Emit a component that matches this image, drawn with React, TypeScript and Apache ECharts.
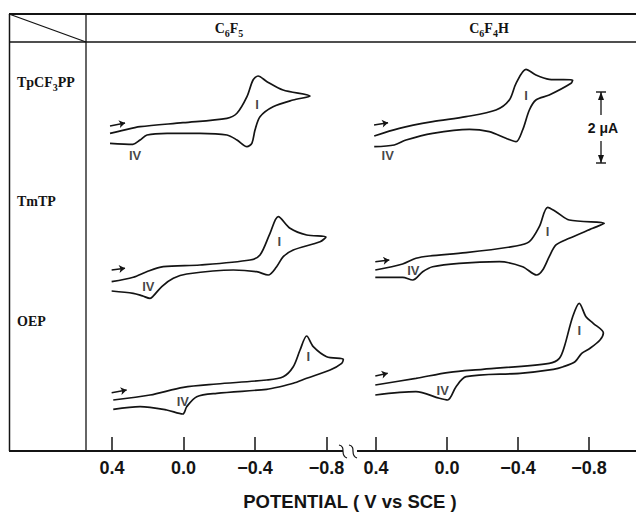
import React, { useEffect, useRef } from "react";
import * as echarts from "echarts";

// Potential in V vs SCE (x), current in µA measured from each row's baseline (y)
const potentialTicks = [0.4, 0.0, -0.4, -0.8];
const substituents = ["C6F5", "C6F4H"];
const porphyrins = ["TpCF3PP", "TmTP", "OEP"];
const axisTitle = "POTENTIAL ( V vs SCE )";
const scaleLabel = "2 μA";

// TpCF3PP / C6F5
const tpcf3pp_C6F5_forward = [[0.411, 1.268], [0.346, 1.342], [0.243, 1.454], [0.003, 1.567], [-0.243, 1.691], [-0.299, 1.832], [-0.355, 2.299], [-0.389, 2.770], [-0.417, 2.883], [-0.467, 2.722], [-0.557, 2.488], [-0.708, 2.319]];
const tpcf3pp_C6F5_reverse = [[-0.613, 2.207], [-0.501, 2.018], [-0.428, 1.736], [-0.400, 1.361], [-0.383, 0.995], [-0.355, 0.891], [-0.299, 1.080], [-0.243, 1.221], [-0.092, 1.268], [0.092, 1.268], [0.204, 1.221], [0.243, 1.080], [0.283, 0.959], [0.411, 0.987]];
// TpCF3PP / C6F4H
const tpcf3pp_C6F4H_forward = [[0.410, 1.192], [0.269, 1.409], [0.081, 1.595], [-0.107, 1.736], [-0.276, 1.925], [-0.351, 2.207], [-0.389, 2.677], [-0.445, 3.071], [-0.501, 2.911], [-0.576, 2.790], [-0.708, 2.770]];
const tpcf3pp_C6F4H_reverse = [[-0.699, 2.677], [-0.576, 2.347], [-0.501, 2.207], [-0.464, 1.925], [-0.426, 1.361], [-0.389, 1.032], [-0.332, 1.128], [-0.238, 1.314], [-0.126, 1.381], [0.081, 1.268], [0.231, 1.080], [0.297, 0.939], [0.410, 0.891]];
// TmTP / C6F5
const tmtp_C6F5_forward = [[0.402, 0.929], [0.281, 1.053], [0.206, 1.210], [0.113, 1.351], [-0.092, 1.399], [-0.372, 1.540], [-0.428, 1.681], [-0.484, 2.292], [-0.530, 2.760], [-0.596, 2.433], [-0.689, 2.244], [-0.797, 2.188]];
const tmtp_C6F5_reverse = [[-0.764, 2.055], [-0.614, 1.822], [-0.558, 1.633], [-0.521, 1.351], [-0.474, 1.117], [-0.409, 1.210], [-0.279, 1.258], [-0.018, 1.146], [0.057, 1.025], [0.120, 0.800], [0.170, 0.520], [0.187, 0.461], [0.230, 0.530], [0.281, 0.602], [0.402, 0.667]];
// TmTP / C6F4H
const tmtp_C6F4H_forward = [[0.404, 1.258], [0.250, 1.427], [0.175, 1.588], [0.100, 1.653], [-0.107, 1.746], [-0.389, 1.934], [-0.464, 2.055], [-0.520, 2.478], [-0.567, 3.025], [-0.614, 2.901], [-0.689, 2.667], [-0.886, 2.574]];
const tmtp_C6F4H_reverse = [[-0.821, 2.433], [-0.689, 2.151], [-0.614, 1.963], [-0.576, 1.633], [-0.539, 1.258], [-0.505, 1.117], [-0.426, 1.351], [-0.295, 1.492], [-0.069, 1.447], [0.081, 1.351], [0.137, 1.210], [0.193, 0.977], [0.250, 1.053], [0.404, 1.053]];
// OEP / C6F5
const oep_C6F5_forward = [[0.393, 1.437], [0.187, 1.577], [0.001, 1.794], [-0.186, 1.887], [-0.465, 2.000], [-0.558, 2.093], [-0.614, 2.375], [-0.652, 2.845], [-0.689, 3.239], [-0.726, 2.938], [-0.801, 2.656], [-0.894, 2.583]];
const oep_C6F5_reverse = [[-0.885, 2.470], [-0.820, 2.282], [-0.689, 2.048], [-0.614, 1.907], [-0.540, 1.811], [-0.465, 1.738], [-0.186, 1.625], [-0.074, 1.530], [-0.018, 1.248], [0.004, 1.042], [0.094, 1.155], [0.243, 1.248], [0.393, 1.175]];
// OEP / C6F4H
const oep_C6F4H_forward = [[0.404, 1.859], [0.175, 2.048], [-0.013, 2.217], [-0.201, 2.301], [-0.576, 2.470], [-0.633, 2.611], [-0.661, 2.938], [-0.708, 3.783], [-0.745, 4.161], [-0.783, 3.783], [-0.824, 3.597], [-0.881, 3.324]];
const oep_C6F4H_reverse = [[-0.862, 3.127], [-0.806, 2.893], [-0.759, 2.752], [-0.721, 2.515], [-0.655, 2.375], [-0.599, 2.301], [-0.411, 2.189], [-0.107, 2.093], [-0.051, 1.811], [-0.004, 1.437], [0.043, 1.485], [0.175, 1.670], [0.404, 1.577]];

// scan-direction arrows (start, end), per panel (row-major)
const scanArrows = [
  [[0.411, 1.474], [0.327, 1.559]],
  [[0.411, 1.502], [0.332, 1.567]],
  [[0.402, 1.258], [0.327, 1.306]],
  [[0.404, 1.492], [0.325, 1.540]],
  [[0.402, 1.642], [0.318, 1.718]],
  [[0.404, 2.113], [0.334, 2.189]],
];
// positions of the wave labels "I" and "IV", per panel
const waveI = [[-0.411, 2.066], [-0.445, 2.347], [-0.536, 2.055], [-0.567, 2.337], [-0.698, 2.656], [-0.745, 3.408]];
const waveIV = [[0.271, 0.657], [0.334, 0.657], [0.197, 0.788], [0.190, 1.258], [0.004, 1.389], [0.024, 1.718]];

const curves = [
  tpcf3pp_C6F5_forward.concat(tpcf3pp_C6F5_reverse),
  tpcf3pp_C6F4H_forward.concat(tpcf3pp_C6F4H_reverse),
  tmtp_C6F5_forward.concat(tmtp_C6F5_reverse),
  tmtp_C6F4H_forward.concat(tmtp_C6F4H_reverse),
  oep_C6F5_forward.concat(oep_C6F5_reverse),
  oep_C6F4H_forward.concat(oep_C6F4H_reverse),
];

const INK = "#141414";
const ROW_BOTTOMS = [178.33, 314.67, 451];
const PX_PER_UA = 35.5;
const GRID_H = 160;
const Y_MAX = GRID_H / PX_PER_UA;
const COLS = [
  { left: 94.125, width: 250.25, min: -0.9, max: 0.5 },
  { left: 358.25, width: 266.25, min: -1.0, max: 0.5 },
];

const subRich = (s: string) => s.replace(/(\d)/g, "{s|$1}");
const fmt = (v: number) => v.toFixed(1).replace("-", "\u2212");

function buildOption() {
  const grid: any[] = [];
  const xAxis: any[] = [];
  const yAxis: any[] = [];
  const series: any[] = [];
  curves.forEach((data, k) => {
    const r = Math.floor(k / 2);
    const c = k % 2;
    const col = COLS[c];
    grid.push({
      left: col.left,
      width: col.width,
      top: ROW_BOTTOMS[r] - GRID_H,
      height: GRID_H,
      containLabel: false,
      outerBoundsMode: "none",
    });
    xAxis.push({
      gridIndex: k,
      type: "value",
      inverse: true,
      min: col.min,
      max: col.max,
      show: r === 2,
      axisLine: { show: false },
      splitLine: { show: false },
      axisTick: {
        show: true,
        inside: true,
        length: 14,
        customValues: potentialTicks,
        lineStyle: { color: INK, width: 1.5 },
      },
      axisLabel: {
        customValues: potentialTicks,
        formatter: (v: number) => fmt(v),
        margin: 8,
        fontSize: 18,
        fontWeight: "bold",
        color: INK,
        fontFamily: "Liberation Sans",
      },
    });
    yAxis.push({ gridIndex: k, type: "value", min: 0, max: Y_MAX, show: false });
    series.push({
      type: "line",
      xAxisIndex: k,
      yAxisIndex: k,
      data,
      symbol: "none",
      showSymbol: false,
      smooth: 0.3,
      clip: false,
      silent: true,
      lineStyle: { color: INK, width: 1.7 },
    });
    series.push({
      type: "lines",
      coordinateSystem: "cartesian2d",
      xAxisIndex: k,
      yAxisIndex: k,
      data: [{ coords: scanArrows[k] }],
      symbol: ["none", "arrow"],
      symbolSize: 6,
      silent: true,
      lineStyle: { color: INK, width: 1.4, opacity: 1 },
    });
    series.push({
      type: "scatter",
      xAxisIndex: k,
      yAxisIndex: k,
      symbolSize: 1,
      silent: true,
      itemStyle: { color: "rgba(0,0,0,0)" },
      data: [
        { name: "I", value: waveI[k] },
        { name: "IV", value: waveIV[k] },
      ],
      label: {
        show: true,
        position: "inside",
        formatter: "{b}",
        color: INK,
        fontSize: 13,
        fontWeight: "bold",
        fontFamily: "Liberation Sans",
      },
    });
  });

  const line = (x1: number, y1: number, x2: number, y2: number, w = 1.5) => ({
    type: "line",
    shape: { x1, y1, x2, y2 },
    style: { stroke: INK, lineWidth: w },
    silent: true,
  });
  const serif = (text: string, x: number, y: number, align: string) => ({
    type: "text",
    x,
    y,
    silent: true,
    style: {
      text: subRich(text),
      fill: INK,
      fontFamily: "Liberation Serif",
      fontWeight: "bold",
      fontSize: 14,
      lineHeight: 20,
      align,
      textAlign: align,
      verticalAlign: "middle",
      textVerticalAlign: "middle",
      rich: {
        s: {
          fontFamily: "Liberation Serif",
          fontWeight: "bold",
          fontSize: 10,
          lineHeight: 10,
          verticalAlign: "bottom",
          fill: INK,
        },
      },
    },
  });

  const graphic: any[] = [
    line(9, 14, 636, 14, 2),
    line(9, 42, 636, 42, 1.5),
    line(9.5, 14, 9.5, 451, 1.5),
    line(86, 14, 86, 451, 1.3),
    line(9, 14, 86, 42, 1.3),
    line(9, 451, 343, 451, 1.8),
    line(357, 451, 636, 451, 1.8),
    {
      type: "bezierCurve",
      shape: { x1: 339, y1: 445, cpx1: 347, cpy1: 447, cpx2: 339, cpy2: 455, x2: 347, y2: 458 },
      style: { stroke: INK, lineWidth: 1.2, fill: "none" },
      silent: true,
    },
    {
      type: "bezierCurve",
      shape: { x1: 349, y1: 445, cpx1: 357, cpy1: 447, cpx2: 349, cpy2: 455, x2: 357, y2: 458 },
      style: { stroke: INK, lineWidth: 1.2, fill: "none" },
      silent: true,
    },
    serif(substituents[0], 229, 28, "center"),
    serif(substituents[1], 489, 28, "center"),
    serif(porphyrins[0], 17, 82, "left"),
    serif(porphyrins[1], 17, 201, "left"),
    serif(porphyrins[2], 17, 321, "left"),
    // 2 µA scale bar
    line(596, 92, 606, 92, 1.4),
    line(601, 92, 601, 115, 1.3),
    { type: "polygon", shape: { points: [[601, 92], [598, 100], [604, 100]] }, style: { fill: INK }, silent: true },
    line(601, 141, 601, 163, 1.3),
    line(596, 163, 606, 163, 1.4),
    { type: "polygon", shape: { points: [[601, 163], [598, 155], [604, 155]] }, style: { fill: INK }, silent: true },
    {
      type: "text",
      x: 603,
      y: 128,
      silent: true,
      style: {
        text: scaleLabel,
        fill: INK,
        fontFamily: "Liberation Sans",
        fontWeight: "bold",
        fontSize: 14,
        align: "center",
        textAlign: "center",
        verticalAlign: "middle",
        textVerticalAlign: "middle",
      },
    },
    {
      type: "text",
      x: 350,
      y: 501,
      silent: true,
      style: {
        text: axisTitle,
        fill: INK,
        fontFamily: "Liberation Sans",
        fontWeight: "bold",
        fontSize: 18.5,
        align: "center",
        textAlign: "center",
        verticalAlign: "middle",
        textVerticalAlign: "middle",
      },
    },
  ];

  return {
    animation: false,
    backgroundColor: "#ffffff",
    grid,
    xAxis,
    yAxis,
    series,
    graphic,
  };
}

export default function App() {
  const ref = useRef<HTMLDivElement>(null);
  useEffect(() => {
    if (!ref.current) return;
    const chart = echarts.init(ref.current, undefined, { renderer: "svg" });
    chart.setOption(buildOption() as any);
    return () => chart.dispose();
  }, []);
  return (
    <div
      ref={ref}
      style={{ position: "fixed", left: 0, top: 0, width: 636, height: 513, background: "#fff" }}
    />
  );
}
